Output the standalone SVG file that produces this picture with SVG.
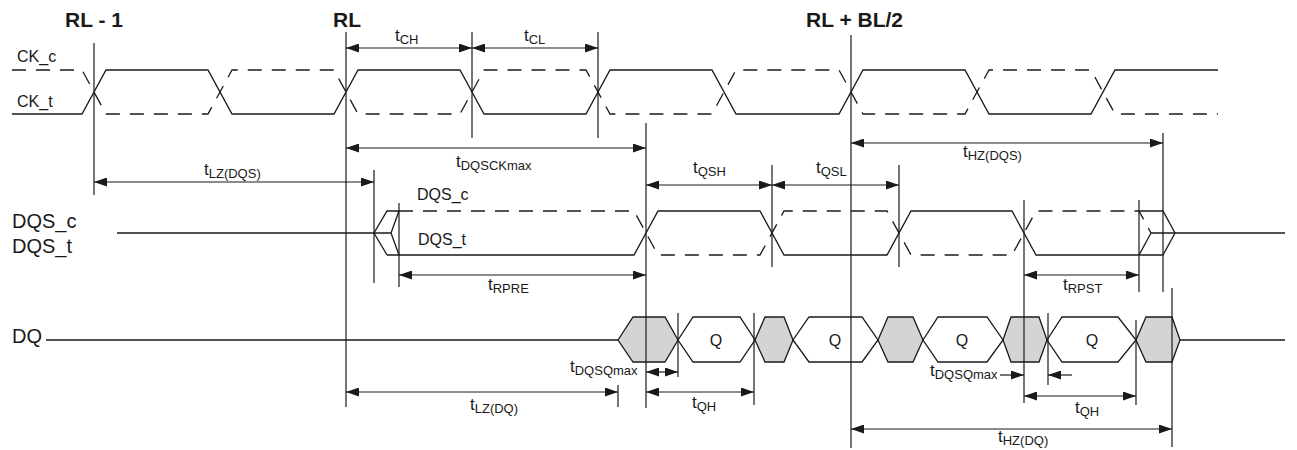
<svg xmlns="http://www.w3.org/2000/svg" width="1297" height="450" viewBox="0 0 1297 450">
<style>
.w{fill:none;stroke:#1a1a1a;stroke-width:1.3;stroke-linejoin:miter}
.d{fill:none;stroke:#1a1a1a;stroke-width:1.3;stroke-dasharray:14 10}
.v{stroke:#1a1a1a;stroke-width:1.2}
.a{stroke:#1a1a1a;stroke-width:1.2;marker-start:url(#ah);marker-end:url(#ah)}
.ae{stroke:#1a1a1a;stroke-width:1.2;marker-end:url(#ah)}
.g{fill:#d4d4d4;stroke:#1a1a1a;stroke-width:1.3}
.q{fill:#fff;stroke:#1a1a1a;stroke-width:1.3}
text{font-family:"Liberation Sans",Arial,sans-serif;fill:#1a1a1a}
.hd{font-size:21px;font-weight:bold}
.sig{font-size:16px}
.big{font-size:20px}
.t{font-size:17px}
.s{font-size:13px}
.ql{font-size:16px;text-anchor:middle}
</style>
<defs>
<marker id="ah" viewBox="0 0 13 9" refX="13" refY="4.5" markerWidth="13" markerHeight="9" markerUnits="userSpaceOnUse" orient="auto-start-reverse">
<path d="M0,0 L13,4.5 L0,9 z" fill="#1a1a1a"/>
</marker>
</defs>
<rect width="1297" height="450" fill="#fff"/>

<g id="headers">
<text class="hd" x="65" y="27">RL - 1</text>
<text class="hd" x="333" y="27">RL</text>
<text class="hd" x="806" y="27">RL + BL/2</text>
</g>

<g id="ck">
<text class="sig" x="17" y="62">CK_c</text>
<text class="sig" x="17" y="107">CK_t</text>
<path class="w" d="M12,114 L82,114 L106,70 L208,70 L232,114 L334,114 L358,70 L460,70 L484,114 L586,114 L610,70 L712,70 L736,114 L839,114 L863,70 L965,70 L989,114 L1091,114 L1115,70 L1218,70"/>
<path class="d" d="M12,70 L82,70 L106,114 L208,114 L232,70 L334,70 L358,114 L460,114 L484,70 L586,70 L610,114 L712,114 L736,70 L839,70 L863,114 L965,114 L989,70 L1091,70 L1115,114 L1218,114"/>
</g>

<g id="dqs">
<text class="big" x="12" y="228">DQS_c</text>
<text class="big" x="12" y="253">DQS_t</text>
<text class="sig" x="417" y="200">DQS_c</text>
<text class="sig" x="418" y="245">DQS_t</text>
<path class="w" d="M117,233 L391,233"/>
<path class="w" d="M399,211 L387,211 L374,233 L387,255"/>
<path class="w" d="M399,211 L391,233 L399,255"/>
<path class="w" d="M387,255 L634,255 L658,211 L760,211 L784,255 L887,255 L911,211 L1012,211 L1036,255 L1139,255 L1151,233"/>
<path class="d" d="M399,211 L634,211 L658,255 L760,255 L784,211 L887,211 L911,255 L1012,255 L1036,211 L1139,211 L1151,233"/>
<path class="w" d="M1140,211 L1163,211 L1175,233 L1163,255 L1140,255"/>
<path class="w" d="M1151,233 L1285,233"/>
</g>

<g id="dq">
<text class="big" x="12" y="343">DQ</text>
<path class="w" d="M46,340 L618,340"/>
<path class="w" d="M1180,340 L1285,340"/>
<polygon class="g" points="618,340 633,317 665,317 678,340 665,362 633,362"/>
<polygon class="q" points="678,340 693,317 740,317 755,340 740,362 693,362"/>
<polygon class="g" points="755,340 765,317 784,317 793,340 784,362 765,362"/>
<polygon class="q" points="793,340 809,317 862,317 878,340 862,362 809,362"/>
<polygon class="g" points="878,340 888,317 913,317 923,340 913,362 888,362"/>
<polygon class="q" points="923,340 938,317 987,317 1003,340 987,362 938,362"/>
<polygon class="g" points="1003,340 1011,317 1039,317 1047,340 1039,362 1011,362"/>
<polygon class="q" points="1047,340 1062,317 1118,317 1136,340 1118,362 1062,362"/>
<polygon class="g" points="1136,340 1146,317 1172,317 1180,340 1172,362 1146,362"/>
<text class="ql" x="716" y="346">Q</text>
<text class="ql" x="835" y="346">Q</text>
<text class="ql" x="962" y="346">Q</text>
<text class="ql" x="1092" y="346">Q</text>
</g>

<g id="connectors">
<line class="v" x1="94" y1="43" x2="94" y2="195"/>
<line class="v" x1="346" y1="32" x2="346" y2="407"/>
<line class="v" x1="472" y1="32" x2="472" y2="138"/>
<line class="v" x1="598" y1="32" x2="598" y2="138"/>
<line class="v" x1="646" y1="123" x2="646" y2="408"/>
<line class="v" x1="851" y1="35" x2="851" y2="448"/>
<line class="v" x1="374" y1="170" x2="374" y2="283"/>
<line class="v" x1="399" y1="203" x2="399" y2="287"/>
<line class="v" x1="772" y1="165" x2="772" y2="267"/>
<line class="v" x1="899" y1="165" x2="899" y2="267"/>
<line class="v" x1="1024" y1="200" x2="1024" y2="403"/>
<line class="v" x1="1139" y1="200" x2="1139" y2="292"/>
<line class="v" x1="1163" y1="133" x2="1163" y2="292"/>
<line class="v" x1="1172" y1="288" x2="1172" y2="447"/>
<line class="v" x1="678" y1="313" x2="678" y2="377"/>
<line class="v" x1="754" y1="313" x2="754" y2="405"/>
<line class="v" x1="1048" y1="313" x2="1048" y2="385"/>
<line class="v" x1="1136" y1="320" x2="1136" y2="405"/>
<line class="v" x1="618" y1="385" x2="618" y2="407"/>

<line class="a" x1="346" y1="48" x2="472" y2="48"/>
<line class="a" x1="472" y1="48" x2="598" y2="48"/>
<line class="a" x1="346" y1="148" x2="646" y2="148"/>
<line class="a" x1="851" y1="143" x2="1163" y2="143"/>
<line class="a" x1="94" y1="182" x2="374" y2="182"/>
<line class="a" x1="646" y1="185" x2="772" y2="185"/>
<line class="a" x1="772" y1="185" x2="899" y2="185"/>
<line class="a" x1="399" y1="275" x2="646" y2="275"/>
<line class="a" x1="1024" y1="275" x2="1139" y2="275"/>
<line class="a" x1="346" y1="392" x2="618" y2="392"/>
<line class="a" x1="646" y1="392" x2="754" y2="392"/>
<line class="a" x1="646" y1="372" x2="678" y2="372"/>
<line class="ae" x1="1000" y1="375" x2="1024" y2="375"/>
<line class="ae" x1="1072" y1="375" x2="1048" y2="375"/>
<line class="a" x1="1024" y1="396" x2="1136" y2="396"/>
<line class="a" x1="851" y1="429" x2="1172" y2="429"/>
</g>

<g id="timing-labels">
<text class="t" x="395" y="41">t<tspan class="s" dy="3">CH</tspan></text>
<text class="t" x="524" y="41">t<tspan class="s" dy="3">CL</tspan></text>
<text class="t" x="456" y="167">t<tspan class="s" dy="3">DQSCKmax</tspan></text>
<text class="t" x="204" y="175">t<tspan class="s" dy="3">LZ(DQS)</tspan></text>
<text class="t" x="963" y="157">t<tspan class="s" dy="3">HZ(DQS)</tspan></text>
<text class="t" x="693" y="173">t<tspan class="s" dy="3">QSH</tspan></text>
<text class="t" x="816" y="173">t<tspan class="s" dy="3">QSL</tspan></text>
<text class="t" x="488" y="290">t<tspan class="s" dy="3">RPRE</tspan></text>
<text class="t" x="1063" y="290">t<tspan class="s" dy="3">RPST</tspan></text>
<text class="t" x="470" y="410">t<tspan class="s" dy="3">LZ(DQ)</tspan></text>
<text class="t" x="570" y="372">t<tspan class="s" dy="3">DQSQmax</tspan></text>
<text class="t" x="692" y="408">t<tspan class="s" dy="3">QH</tspan></text>
<text class="t" x="930" y="376">t<tspan class="s" dy="3">DQSQmax</tspan></text>
<text class="t" x="1075" y="413">t<tspan class="s" dy="3">QH</tspan></text>
<text class="t" x="998" y="442">t<tspan class="s" dy="3">HZ(DQ)</tspan></text>
</g>
</svg>
